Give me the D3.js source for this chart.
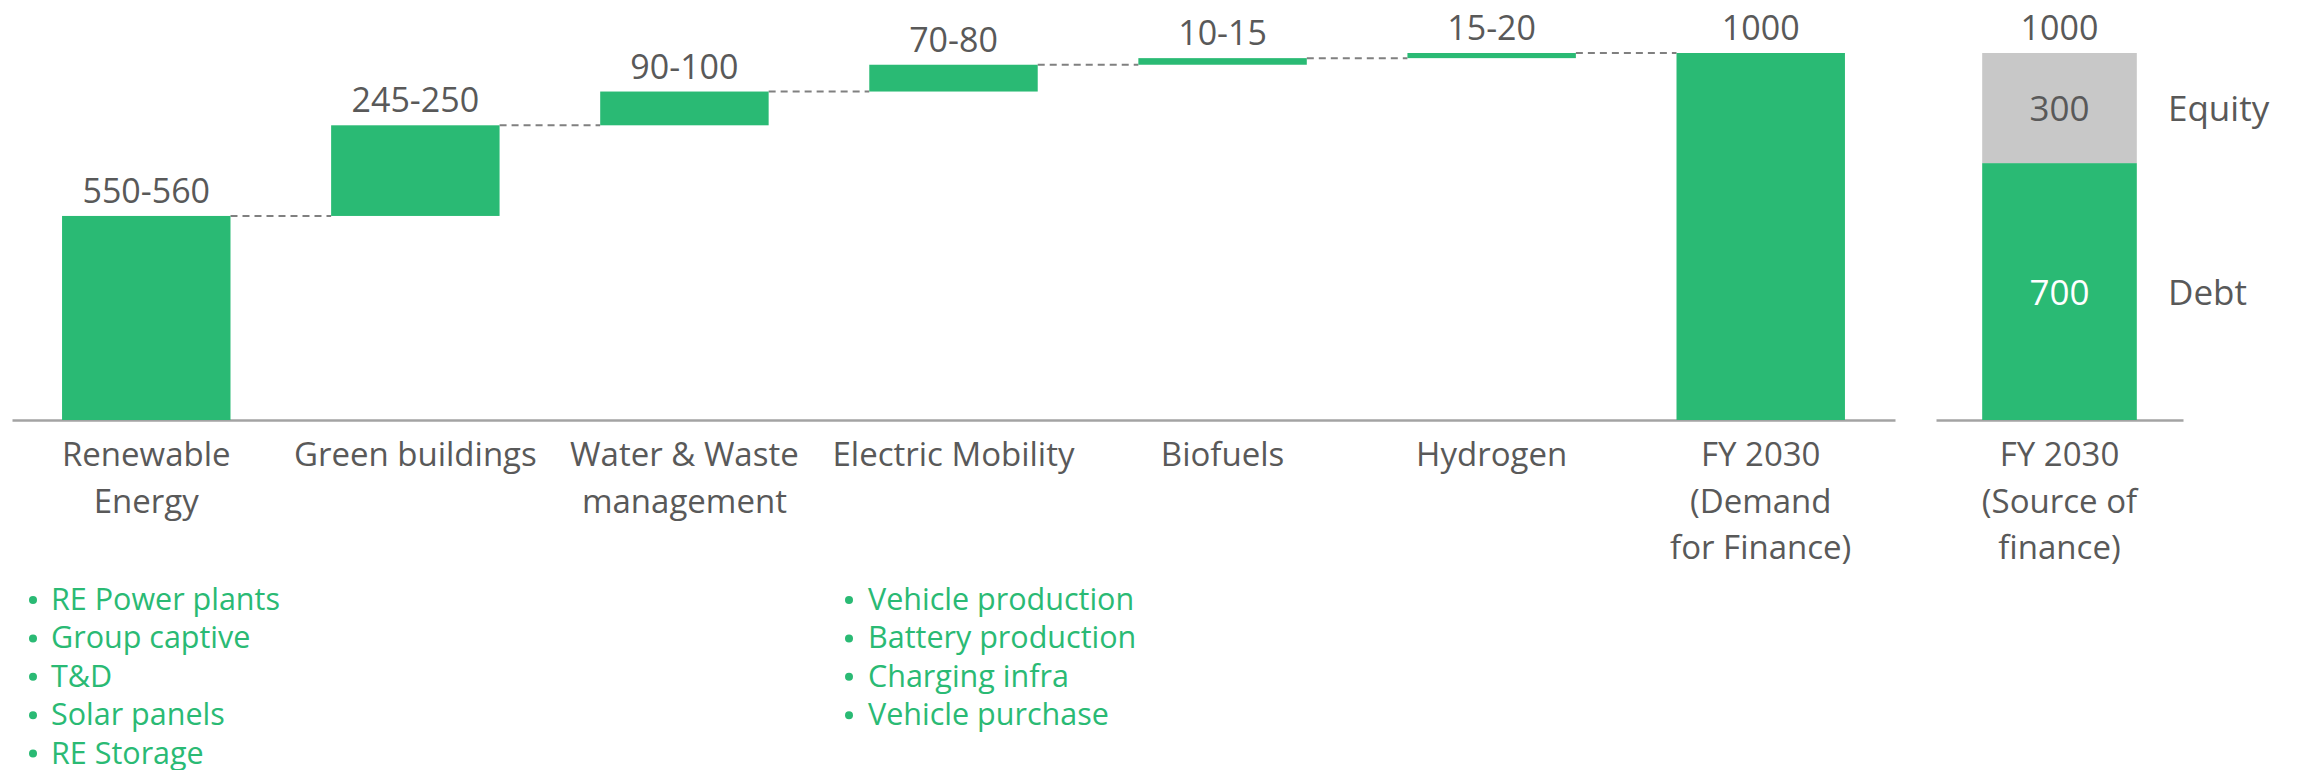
<!DOCTYPE html>
<html>
<head>
<meta charset="utf-8">
<script src="https://cdn.jsdelivr.net/npm/d3@7"></script>
<style>
  html, body { margin: 0; padding: 0; background: #ffffff; }
  svg { display: block; }
  text { font-family: "Open Sans", "DejaVu Sans", sans-serif; }
</style>
</head>
<body>
<svg id="chart" width="2297" height="770"></svg>
<script>
// ---- data ----
const categories = ["Renewable Energy", "Green buildings", "Water & Waste management",
  "Electric Mobility", "Biofuels", "Hydrogen", "FY 2030 (Demand for Finance)"];
const categoryLines = [["Renewable", "Energy"], ["Green buildings"], ["Water & Waste", "management"],
  ["Electric Mobility"], ["Biofuels"], ["Hydrogen"], ["FY 2030", "(Demand", "for Finance)"]];
const stepValues = [556, 247, 92, 73, 18, 14];
const valueLabels = ["550-560", "245-250", "90-100", "70-80", "10-15", "15-20", "1000"];
const totalValue = 1000;

const sourceCategory = ["FY 2030 (Source of finance)"];
const sourceLines = ["FY 2030", "(Source of", "finance)"];
const sourceSeries = ["Debt", "Equity"];
const sourceValues = [700, 300];
const sourceTotalLabel = "1000";

const reBullets = ["RE Power plants", "Group captive", "T&D", "Solar panels", "RE Storage"];
const evBullets = ["Vehicle production", "Battery production", "Charging infra", "Vehicle purchase"];

// ---- style ----
const GREEN = "#2aba74";
const GREY_BAR = "#c8c8c8";
const TEXT = "#595959";
const AXIS = "#a3a3a3";

const svg = d3.select("#chart");

const y = d3.scaleLinear().domain([0, 1000]).range([420, 53]);

const x = d3.scaleBand().domain(categories).range([12, 1895])
  .paddingInner(0.374).paddingOuter(0.186);
const x2 = d3.scaleBand().domain(sourceCategory).range([1936, 2183])
  .paddingInner(0.374).paddingOuter(0.183);

// waterfall records
let cum = 0;
const wf = stepValues.map((v, i) => {
  const r = { cat: categories[i], start: cum, end: cum + v, label: valueLabels[i] };
  cum += v;
  return r;
});
wf.push({ cat: categories[6], start: 0, end: totalValue, label: valueLabels[6] });

// axes (baseline lines)
const ax1 = svg.append("g").attr("transform", `translate(0,${y(0)})`)
  .call(d3.axisBottom(x).tickSize(0).tickFormat(""));
const ax2 = svg.append("g").attr("transform", `translate(0,${y(0)})`)
  .call(d3.axisBottom(x2).tickSize(0).tickFormat(""));
[ax1, ax2].forEach(a => a.select(".domain").attr("stroke", AXIS).attr("stroke-width", 2.5));

// connectors
const conn = [];
for (let i = 0; i < wf.length - 1; i++) {
  conn.push({ x1: x(wf[i].cat) + x.bandwidth(), x2: x(wf[i + 1].cat), v: wf[i].end });
}
svg.append("g").selectAll("line").data(conn).join("line")
  .attr("x1", d => d.x1).attr("x2", d => d.x2)
  .attr("y1", d => y(d.v)).attr("y2", d => y(d.v))
  .attr("stroke", "#808080").attr("stroke-width", 2).attr("stroke-dasharray", "7,5");

// waterfall bars
svg.append("g").selectAll("rect").data(wf).join("rect")
  .attr("x", d => x(d.cat)).attr("width", x.bandwidth())
  .attr("y", d => y(d.end)).attr("height", d => y(d.start) - y(d.end))
  .attr("fill", GREEN);

// value labels
svg.append("g").selectAll("text").data(wf).join("text")
  .attr("x", d => x(d.cat) + x.bandwidth() / 2)
  .attr("y", d => y(d.end) - 13)
  .attr("text-anchor", "middle").attr("fill", TEXT)
  .attr("font-size", 34)
  .text(d => d.label);

// category labels
const catG = svg.append("g").selectAll("text").data(categories).join("text")
  .attr("text-anchor", "middle").attr("fill", TEXT).attr("font-size", 33);
catG.each(function (d, i) {
  const t = d3.select(this);
  categoryLines[i].forEach((ln, j) => {
    t.append("tspan").attr("x", x(d) + x.bandwidth() / 2).attr("y", 466 + j * 46.5).text(ln);
  });
});

// stacked source bar
let sc = 0;
const stack = sourceValues.map((v, i) => {
  const r = { name: sourceSeries[i], start: sc, end: sc + v, v };
  sc += v;
  return r;
});
const bx = x2(sourceCategory[0]);
const bw = x2.bandwidth();
svg.append("g").selectAll("rect").data(stack).join("rect")
  .attr("x", bx).attr("width", bw)
  .attr("y", d => y(d.end)).attr("height", d => y(d.start) - y(d.end))
  .attr("fill", (d, i) => i === 0 ? GREEN : GREY_BAR);
svg.append("g").selectAll("text").data(stack).join("text")
  .attr("x", bx + bw / 2).attr("y", d => y((d.start + d.end) / 2) + 13)
  .attr("text-anchor", "middle").attr("font-size", 35)
  .attr("fill", (d, i) => i === 0 ? "#ffffff" : TEXT)
  .text(d => d.v);
svg.append("g").selectAll("text").data(stack).join("text")
  .attr("x", 2168).attr("y", d => y((d.start + d.end) / 2) + 13)
  .attr("font-size", 35).attr("fill", TEXT)
  .text(d => d.name);
svg.append("text").attr("x", bx + bw / 2).attr("y", y(sc) - 13)
  .attr("text-anchor", "middle").attr("font-size", 34).attr("fill", TEXT)
  .text(sourceTotalLabel);
const st = svg.append("text").attr("text-anchor", "middle").attr("fill", TEXT).attr("font-size", 33);
sourceLines.forEach((ln, j) => {
  st.append("tspan").attr("x", bx + bw / 2).attr("y", 466 + j * 46.5).text(ln);
});

// bullet lists
function bulletList(items, bx0, tx0) {
  const g = svg.append("g");
  items.forEach((it, i) => {
    const yy = 610 + i * 38.4;
    g.append("circle").attr("cx", bx0).attr("cy", yy - 10).attr("r", 4).attr("fill", GREEN);
    g.append("text").attr("x", tx0).attr("y", yy).attr("font-size", 30.5).attr("fill", GREEN).text(it);
  });
}
bulletList(reBullets, 33, 51);
bulletList(evBullets, 849, 868);
</script>
</body>
</html>
